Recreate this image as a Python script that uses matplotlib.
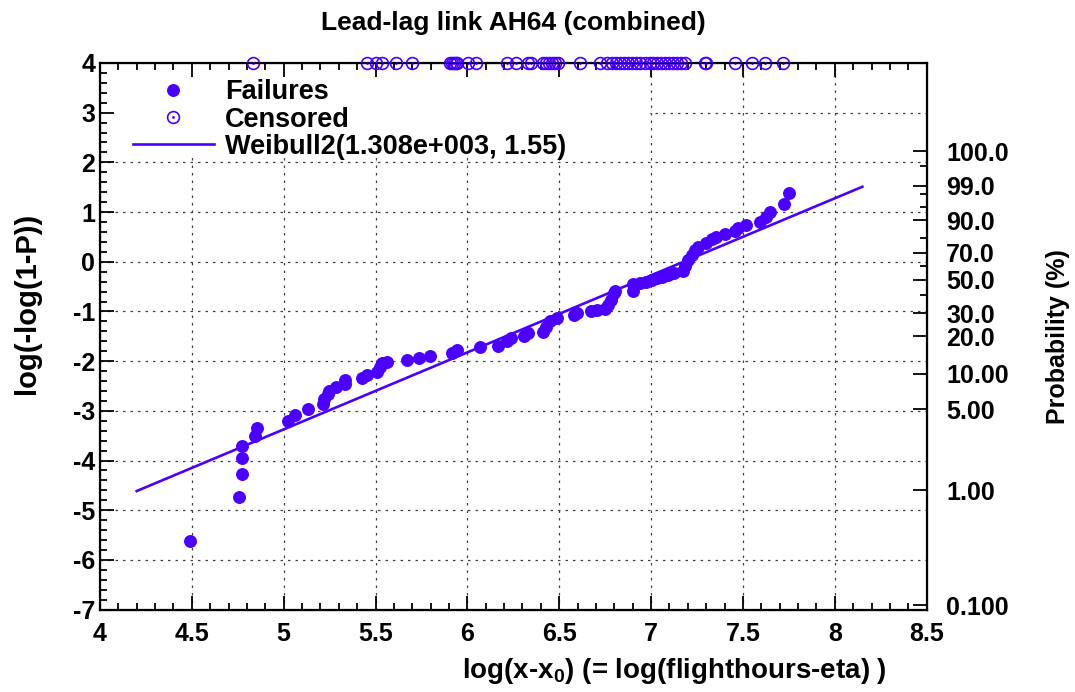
import numpy as np
import matplotlib
matplotlib.use("Agg")
import matplotlib.pyplot as plt
from matplotlib.patches import Rectangle

plt.rcParams['font.family'] = ['Liberation Sans', 'DejaVu Sans']
plt.rcParams['font.weight'] = 'bold'
plt.rcParams['axes.unicode_minus'] = False
plt.rcParams['mathtext.fontset'] = 'custom'
plt.rcParams['mathtext.bf'] = 'Liberation Sans:bold'
plt.rcParams['mathtext.rm'] = 'Liberation Sans:bold'

# failures: log(flighthours-eta) vs log(-log(1-P))
fail_x = [4.490, 4.756, 4.774, 4.774, 4.774, 4.843, 4.854, 5.024, 5.061, 5.132,
          5.215, 5.219, 5.242, 5.246, 5.287, 5.333, 5.333, 5.424, 5.451, 5.507,
          5.523, 5.534, 5.560, 5.669, 5.738, 5.799, 5.914, 5.941, 6.068, 6.165,
          6.213, 6.236, 6.310, 6.330, 6.413, 6.427, 6.448, 6.486, 6.579, 6.598,
          6.675, 6.704, 6.748, 6.766, 6.784, 6.797, 6.802, 6.901, 6.904, 6.937,
          6.974, 7.003, 7.030, 7.058, 7.094, 7.124, 7.175, 7.184, 7.202, 7.220,
          7.238, 7.256, 7.301, 7.329, 7.356, 7.400, 7.455, 7.473, 7.519, 7.591,
          7.627, 7.645, 7.721, 7.753]
fail_y = [-5.628, -4.730, -4.274, -3.958, -3.710, -3.509, -3.338, -3.207, -3.081, -2.966,
          -2.865, -2.755, -2.664, -2.604, -2.529, -2.453, -2.382, -2.342, -2.282, -2.215,
          -2.115, -2.040, -2.020, -1.980, -1.940, -1.899, -1.839, -1.773, -1.718, -1.702,
          -1.598, -1.537, -1.497, -1.437, -1.411, -1.310, -1.195, -1.135, -1.075, -1.024,
          -0.994, -0.970, -0.950, -0.863, -0.763, -0.632, -0.592, -0.582, -0.451, -0.437,
          -0.405, -0.370, -0.336, -0.304, -0.270, -0.236, -0.189, -0.089, 0.032, 0.133,
          0.233, 0.300, 0.374, 0.449, 0.501, 0.554, 0.615, 0.681, 0.736, 0.804,
          0.904, 1.011, 1.167, 1.374]

# censored (suspended) units, shown on the top border
cens_x = [4.831, 5.451, 5.505, 5.533, 5.609, 5.696, 5.904, 5.915, 5.926, 5.937,
          5.942, 6.002, 6.049, 6.213, 6.267, 6.329, 6.349, 6.410, 6.426, 6.443,
          6.459, 6.476, 6.492, 6.612, 6.720, 6.758, 6.786, 6.807, 6.829, 6.851,
          6.873, 6.894, 6.916, 6.937, 6.965, 6.992, 7.009, 7.031, 7.052, 7.074,
          7.096, 7.118, 7.139, 7.161, 7.183, 7.292, 7.297, 7.455, 7.547, 7.618,
          7.716]
cens_level = 4.0

# Weibull2 fit
eta = 1.308e3
beta = 1.55
fit_range = [4.2, 8.15]

# probability axis
prob_major = [99.99, 99.0, 90.0, 70.0, 50.0, 30.0, 20.0, 10.0, 5.0, 1.0, 0.1]
prob_labels = ['100.0', '99.0', '90.0', '70.0', '50.0', '30.0', '20.0',
               '10.00', '5.00', '1.00', '0.100']
prob_minor = [99.9, 98.0, 95.0, 80.0, 60.0, 40.0]

col = '#4b00ff'

fig, ax = plt.subplots(figsize=(10.75, 6.92), dpi=100)
fig.subplots_adjust(left=0.093, right=0.862, top=0.909, bottom=0.119)

ax.set_xlim(4, 8.5)
ax.set_ylim(-7, 4)
ax.set_xticks(np.arange(4, 8.51, 0.5))
ax.set_xticklabels(['%g' % v for v in np.arange(4, 8.51, 0.5)])
ax.set_xticks(np.arange(4, 8.51, 0.1), minor=True)
ax.set_yticks(np.arange(-7, 4.1, 1))
ax.set_yticks(np.arange(-7, 4.01, 0.2), minor=True)

# grid drawn by hand so the legend patch can hide it
for gx in np.arange(4.5, 8.4, 0.5):
    ax.axvline(gx, color='0.25', lw=0.9, ls=(0, (2, 4)), zorder=0.8)
for gy in np.arange(-6, 3.1, 1):
    ax.axhline(gy, color='0.25', lw=0.9, ls=(0, (2, 4)), zorder=0.8)
ax.add_patch(Rectangle((0, 0.826), 0.665, 0.174, transform=ax.transAxes,
                       facecolor='white', edgecolor='none', zorder=0.9))

xf = np.array(fit_range)
h_l, = ax.plot(xf, beta * (xf - np.log(eta)), color=col, lw=1.9, zorder=2)
h_f, = ax.plot(fail_x, fail_y, 'o', color=col, ms=8.3, ls='none', zorder=3)
h_c, = ax.plot(cens_x, [cens_level] * len(cens_x), 'o', mfc='none', mec=col,
               mew=1.2, ms=8.5, ls='none', zorder=3, clip_on=False)
h_cd, = ax.plot(cens_x, [cens_level] * len(cens_x), '.', color=col, ms=2,
                ls='none', zorder=3, clip_on=False)

ax.tick_params(which='both', direction='in', top=True, right=False, width=1.3,
               labelsize=18)
ax.tick_params(axis='x', pad=9)
ax.tick_params(which='major', length=10)
ax.tick_params(which='minor', length=5)
for s in ax.spines.values():
    s.set_linewidth(1.6)

ax2 = ax.twinx()
ax2.set_ylim(-7, 4)
pmaj = np.array(prob_major) / 100.0
ax2.set_yticks(np.log(-np.log(1 - pmaj)))
ax2.set_yticklabels(prob_labels)
pmin = np.array(prob_minor) / 100.0
ax2.set_yticks(np.log(-np.log(1 - pmin)), minor=True)
ax2.tick_params(which='both', direction='in', width=1.3, labelsize=18, pad=14)
ax2.tick_params(which='major', length=10)
ax2.tick_params(which='minor', length=5)
ax2.set_ylabel('Probability (%)', fontsize=18, fontweight='bold', labelpad=27)

ax.set_title('Lead-lag link AH64 (combined)', fontsize=19, fontweight='bold', pad=24)
ax.set_xlabel(r'log(x-x$_\mathbf{0}$) (= log(flighthours-eta) )', fontsize=20,
              fontweight='bold', labelpad=8)
ax.xaxis.set_label_coords(0.695, -0.085)
ax.set_ylabel('log(-log(1-P))', fontsize=21, fontweight='bold')
ax.yaxis.set_label_coords(-0.071, 0.56)

leg = ax.legend([h_f, (h_c, h_cd), h_l],
                ['Failures', 'Censored', 'Weibull2(1.308e+003, 1.55)'],
                loc='upper left', bbox_to_anchor=(0.02, 1.0), frameon=False,
                fontsize=19.5, handlelength=3.0, handletextpad=0.4,
                labelspacing=0.05, borderaxespad=0.2)

fig.savefig('out.png', dpi=100)
